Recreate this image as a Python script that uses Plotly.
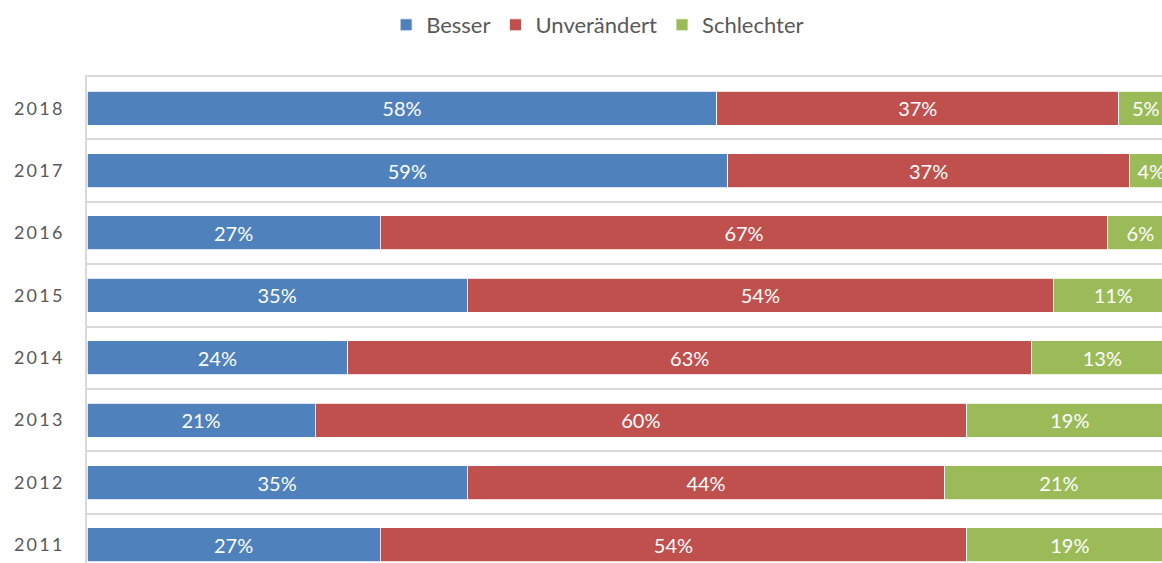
import plotly.graph_objects as go

years = ['2011', '2012', '2013', '2014', '2015', '2016', '2017', '2018']
year_labels = ['2\u20090\u20091\u20091', '2\u20090\u20091\u20092', '2\u20090\u20091\u20093', '2\u20090\u20091\u20094',
               '2\u20090\u20091\u20095', '2\u20090\u20091\u20096', '2\u20090\u20091\u20097', '2\u20090\u20091\u20098']
besser = [27, 35, 21, 24, 35, 27, 59, 58]
unveraendert = [54, 44, 60, 63, 54, 67, 37, 37]
schlechter = [19, 21, 19, 13, 11, 6, 4, 5]

series = [
    ('Besser', besser, '#4F81BD'),
    ('Unverändert', unveraendert, '#C0504D'),
    ('Schlechter', schlechter, '#9BBB59'),
]

FONT = 'Lato'

fig = go.Figure()
for name, values, color in series:
    fig.add_trace(go.Bar(
        y=years,
        x=values,
        name=name,
        orientation='h',
        marker=dict(color=color, line=dict(color='white', width=0.8)),
        texttemplate='%{x}%',
        textposition='inside',
        insidetextanchor='middle',
        textangle=0,
        insidetextfont=dict(family=FONT, size=20, color='white'),
        hovertemplate=name + ' %{y}: %{x}%<extra></extra>',
    ))

fig.update_layout(
    barmode='stack',
    bargap=0.455,
    width=1162,
    height=563,
    margin=dict(l=87, r=0, t=77, b=0),
    paper_bgcolor='white',
    plot_bgcolor='white',
    font=dict(family=FONT, color='#595959'),
    uniformtext=dict(minsize=20, mode='show'),
    showlegend=True,
    legend=dict(
        orientation='h',
        x=0.475,
        xanchor='center',
        y=1.107,
        yanchor='middle',
        font=dict(family=FONT, size=22, color='#595959'),
        traceorder='normal',
        itemclick=False,
    ),
)

# the chart is cut at the right edge, 100% lies just outside the view
fig.update_xaxes(
    range=[0, 98.99],
    side='top',
    showline=True,
    linecolor='#D9D9D9',
    linewidth=1.5,
    showgrid=False,
    zeroline=False,
    showticklabels=False,
    ticks='',
    fixedrange=True,
)

fig.update_yaxes(
    type='category',
    categoryorder='array',
    categoryarray=years,
    tickvals=years,
    ticktext=year_labels,
    range=[-0.29, 7.5],
    tickson='boundaries',
    showgrid=True,
    gridcolor='#D9D9D9',
    gridwidth=1.5,
    showline=True,
    linecolor='#D9D9D9',
    linewidth=2,
    ticks='',
    ticklen=0,
    ticklabelstandoff=19,
    tickfont=dict(family=FONT, size=18, color='#595959'),
    fixedrange=True,
)

fig.write_html('out.html', config={'displayModeBar': False},
               post_script="document.body.style.margin='0';")
